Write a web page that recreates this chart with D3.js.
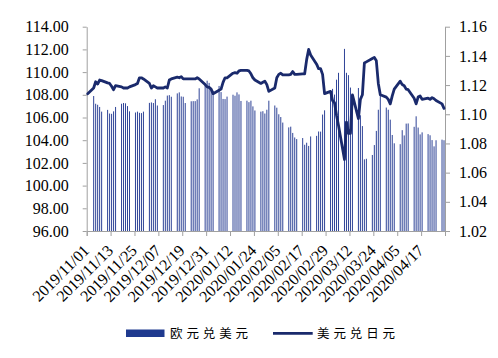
<!DOCTYPE html>
<html><head><meta charset="utf-8">
<script src="https://cdn.jsdelivr.net/npm/d3@7"></script>
<style>body{margin:0;background:#fff}svg{display:block}</style>
</head><body><svg id="c" width="498" height="358"></svg>
<script>
const dates = [
"2019/11/01","2019/11/04","2019/11/05","2019/11/06","2019/11/07","2019/11/08",
"2019/11/11","2019/11/12","2019/11/13","2019/11/14","2019/11/15",
"2019/11/18","2019/11/19","2019/11/20","2019/11/21","2019/11/22",
"2019/11/25","2019/11/26","2019/11/27","2019/11/28","2019/11/29",
"2019/12/02","2019/12/03","2019/12/04","2019/12/05","2019/12/06",
"2019/12/09","2019/12/10","2019/12/11","2019/12/12","2019/12/13",
"2019/12/16","2019/12/17","2019/12/18","2019/12/19","2019/12/20",
"2019/12/23","2019/12/24","2019/12/25","2019/12/26","2019/12/27",
"2019/12/30","2019/12/31","2020/01/01","2020/01/02","2020/01/03",
"2020/01/06","2020/01/07","2020/01/08","2020/01/09","2020/01/10",
"2020/01/13","2020/01/14","2020/01/15","2020/01/16","2020/01/17",
"2020/01/20","2020/01/21","2020/01/22","2020/01/23","2020/01/24",
"2020/01/27","2020/01/28","2020/01/29","2020/01/30","2020/01/31",
"2020/02/03","2020/02/04","2020/02/05","2020/02/06","2020/02/07",
"2020/02/10","2020/02/11","2020/02/12","2020/02/13","2020/02/14",
"2020/02/17","2020/02/18","2020/02/19","2020/02/20","2020/02/21",
"2020/02/24","2020/02/25","2020/02/26","2020/02/27","2020/02/28",
"2020/03/02","2020/03/03","2020/03/04","2020/03/05","2020/03/06",
"2020/03/09","2020/03/10","2020/03/11","2020/03/12","2020/03/13",
"2020/03/16","2020/03/17","2020/03/18","2020/03/19","2020/03/20",
"2020/03/23","2020/03/24","2020/03/25","2020/03/26","2020/03/27",
"2020/03/30","2020/03/31","2020/04/01","2020/04/02","2020/04/03",
"2020/04/06","2020/04/07","2020/04/08","2020/04/09","2020/04/10",
"2020/04/13","2020/04/14","2020/04/15","2020/04/16","2020/04/17",
"2020/04/20","2020/04/21","2020/04/22","2020/04/23","2020/04/24",
"2020/04/27","2020/04/28"];

// 美元兑日元 (left axis, line)
const usdJpy = [
108.1,108.6,109.15,108.95,109.3,109.25,
109.05,109.0,108.75,108.45,108.8,
108.7,108.6,108.6,108.6,108.7,
108.9,109.0,109.5,109.5,109.4,
109.0,108.6,108.8,108.7,108.6,
108.6,108.7,108.6,109.3,109.4,
109.55,109.5,109.6,109.4,109.4,
109.4,109.4,109.4,109.5,109.4,
108.9,108.7,108.65,108.5,108.1,
108.4,108.5,109.1,109.5,109.5,
109.9,109.95,109.9,110.1,110.15,
110.15,110.1,109.85,109.5,109.3,
109.0,109.1,109.2,108.9,108.3,
108.6,109.5,109.8,109.9,109.75,
109.75,109.8,110.05,109.8,109.8,
109.85,109.85,111.1,112.0,111.5,
110.7,110.3,110.3,109.8,108.1,
108.3,107.5,107.3,106.2,105.3,
102.3,105.6,104.6,104.6,108.0,
105.9,107.6,108.0,110.8,110.9,
111.2,111.3,111.0,109.0,108.0,
107.8,107.6,107.2,107.9,108.5,
109.2,108.9,108.8,108.5,108.45,
107.7,107.2,107.8,107.9,107.6,
107.7,107.6,107.75,107.65,107.5,
107.2,106.8];

// 欧元兑美元 (right axis, bars)
const eurUsd = [
null,1.1125,1.1072,1.1065,1.1050,1.1018,
1.1030,1.1005,1.1003,1.1020,1.1050,
1.1072,1.1077,1.1075,1.1056,1.1020,
1.1012,1.1018,1.1010,1.1008,1.1018,
1.1078,1.1081,1.1077,1.1103,1.1060,
1.1063,1.1093,1.1128,1.1131,1.1120,
1.1143,1.1150,1.1122,1.1120,1.1077,
1.1089,1.1090,1.1090,1.1102,1.1178,
1.1199,1.1230,1.1215,1.1173,1.1160,
1.1194,1.1152,1.1105,1.1104,1.1121,
1.1134,1.1127,1.1150,1.1136,1.1091,
1.1093,1.1083,1.1093,1.1054,1.1026,
1.1018,1.1021,1.1005,1.1031,1.1093,
1.1060,1.1045,1.1000,1.0981,1.0943,
1.0910,1.0915,1.0872,1.0841,1.0830,
1.0837,1.0791,1.0805,1.0783,1.0848,
1.0852,1.0882,1.0881,1.0998,1.1027,
1.1137,1.1174,1.1135,1.1237,1.1284,
1.1448,1.1284,1.1268,1.1183,1.1107,
1.1180,1.0993,1.0919,1.0691,1.0695,
1.0721,1.0789,1.0886,1.1031,1.1142,
1.1046,1.1031,1.0963,1.0858,1.0801,
1.0795,1.0891,1.0855,1.0936,1.0937,
1.0914,1.0986,1.0909,1.0862,1.0876,
1.0864,1.0856,1.0823,1.0780,1.0822,
1.0826,1.0822];

const leftTicks = [96,98,100,102,104,106,108,110,112,114];
const rightTicks = [1.02,1.04,1.06,1.08,1.10,1.12,1.14,1.16];
const xTickLabels = ["2019/11/01","2019/11/13","2019/11/25","2019/12/07","2019/12/19","2019/12/31",
"2020/01/12","2020/01/24","2020/02/05","2020/02/17","2020/02/29","2020/03/12","2020/03/24","2020/04/05","2020/04/17"];
const seriesNames = ["欧元兑美元","美元兑日元"];
const firstDay = "2019/11/01", lastDay = "2020/04/28";

const parse = d3.utcParse("%Y/%m/%d");
const DAY = 864e5;
const svg = d3.select("#c");
const L = 86.7, R = 445, T = 26.7, B = 231;
const x = d3.scaleUtc().domain([parse(firstDay), new Date(parse(lastDay).getTime() + DAY)]).range([L, R]);
const yL = d3.scaleLinear().domain([96, 114]).range([B, T]);
const yR = d3.scaleLinear().domain([1.02, 1.16]).range([B, T]);
const cx = s => x(new Date(parse(s).getTime() + DAY / 2));

const serif = "'Liberation Serif','Times New Roman',serif";
const axisColor = "#a0a0a0";

// bars
const barData = dates.map((d, i) => ({d, v: eurUsd[i]})).filter(o => o.v != null);
svg.append("g").selectAll("rect").data(barData).join("rect")
  .attr("x", o => cx(o.d) - 0.5)
  .attr("width", 1)
  .attr("y", o => yR(o.v))
  .attr("height", o => B - yR(o.v))
  .attr("fill", "#2f4497");

// axes
function styleAxis(g) {
  g.select(".domain").attr("stroke", axisColor);
  g.selectAll(".tick line").attr("stroke", axisColor);
  g.selectAll("text").attr("font-family", serif).attr("font-size", 16).attr("fill", "#000");
}
svg.append("g").attr("transform", `translate(${L},0)`)
  .call(d3.axisLeft(yL).tickValues(leftTicks).tickFormat(d3.format(".2f")).tickSize(4).tickSizeOuter(0).tickPadding(14))
  .call(styleAxis);
svg.append("g").attr("transform", `translate(${R},0)`)
  .call(d3.axisRight(yR).tickValues(rightTicks).tickFormat(d3.format(".2f")).tickSize(5).tickSizeOuter(0).tickPadding(9))
  .call(styleAxis);
const xAxis = svg.append("g").attr("transform", `translate(0,${B})`)
  .call(d3.axisBottom(x).tickValues(xTickLabels.map(parse)).tickFormat(d3.utcFormat("%Y/%m/%d")).tickSize(5).tickSizeOuter(5))
  .call(styleAxis);
xAxis.selectAll(".tick text")
  .attr("y", null).attr("dy", null).attr("x", null)
  .attr("text-anchor", "end")
  .attr("transform", "translate(3,20.5) rotate(-45)");

// line
const lineGen = d3.line().x((v, i) => cx(dates[i])).y(v => yL(v));
svg.append("path").datum(usdJpy)
  .attr("d", lineGen)
  .attr("fill", "none")
  .attr("stroke", "#1a2a6c")
  .attr("stroke-width", 2.8)
  .attr("stroke-linejoin", "round")
  .attr("stroke-linecap", "round");

// legend
const cjk = "'Noto Sans CJK SC','Noto Sans',sans-serif";
const lg = svg.append("g");
lg.append("rect").attr("x", 126).attr("y", 329.5).attr("width", 38.5).attr("height", 7.5).attr("fill", "#1f3a8f");
lg.append("text").attr("x", 170).attr("y", 338).text(seriesNames[0])
  .attr("font-family", cjk).attr("font-size", 12.5).attr("letter-spacing", 3.9).attr("fill", "#000");
lg.append("line").attr("x1", 273).attr("x2", 312.7).attr("y1", 333.3).attr("y2", 333.3)
  .attr("stroke", "#1a2a6c").attr("stroke-width", 2.8);
lg.append("text").attr("x", 317).attr("y", 338).text(seriesNames[1])
  .attr("font-family", cjk).attr("font-size", 12.5).attr("letter-spacing", 3.9).attr("fill", "#000");
</script></body></html>
